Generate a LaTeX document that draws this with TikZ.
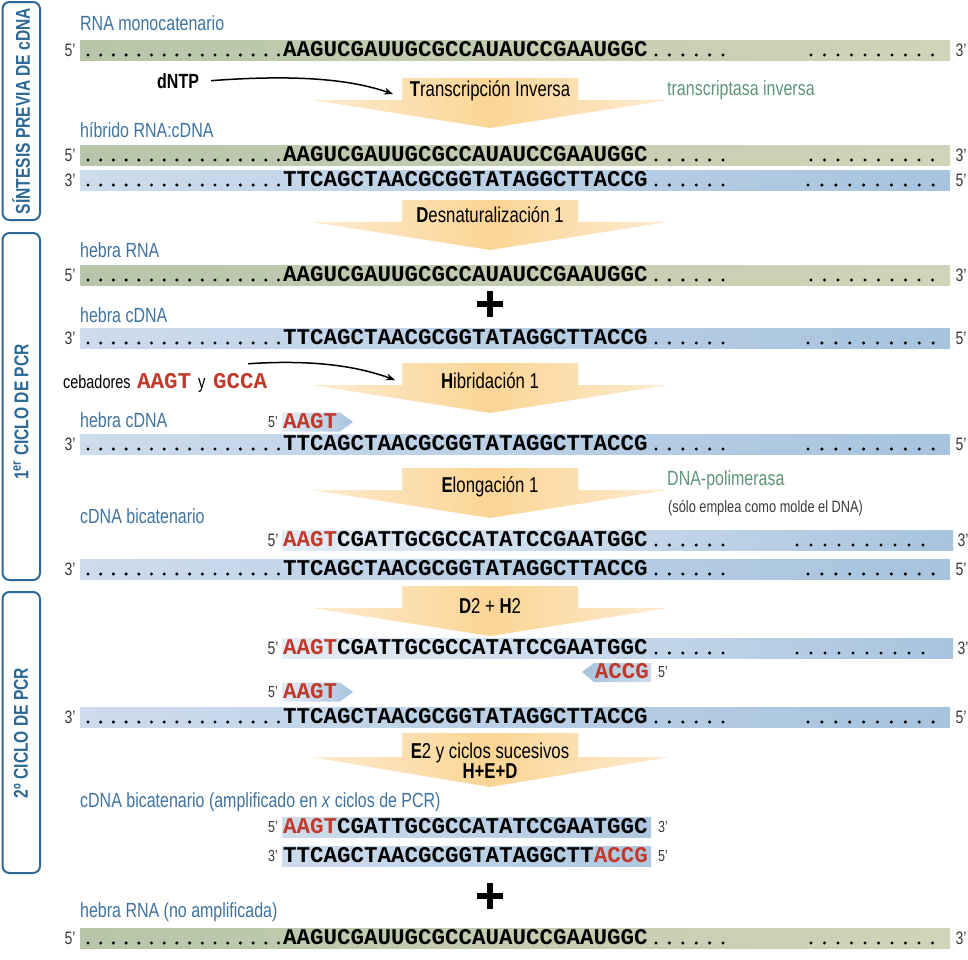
\documentclass[tikz,border=0pt]{standalone}
\usepackage{fontspec}
\setmainfont{Liberation Sans}[FakeStretch=0.78]
\newfontfamily\seqfont{Liberation Mono}
\usetikzlibrary{arrows.meta}
\definecolor{labblue}{HTML}{3F73A0}
\definecolor{labgreen}{HTML}{5F967A}
\definecolor{seqred}{HTML}{C0392B}
\definecolor{boxblue}{HTML}{2D6996}
\definecolor{endgray}{HTML}{3A3A3A}
\definecolor{rnaL}{HTML}{B7C5A9}
\definecolor{rnaR}{HTML}{D1D4B8}
\definecolor{dnaL}{HTML}{CDDCEC}
\definecolor{dnaR}{HTML}{A7C3DE}
\definecolor{dnaLL}{HTML}{E4ECF5}
\definecolor{stepC}{HTML}{FBD595}
\definecolor{stepE}{HTML}{FEEBD0}
\newcommand\dotrow[4]{\foreach \k in {1,...,#3}{\fill ({#1+(\k-1)*#4},{#2}) circle (1.7);}}
\newcommand\rnarow[2]{%
  \shade[left color=rnaL,right color=rnaR] (80,{#1-10}) rectangle (950,{#1+10});
  \node[endlab] (#2a) at (70,#1) {5’};
  \node[endlab] (#2b) at (961,#1) {3’};
  \dotrow{88}{#1+5}{16}{12.7}
  \node[seq] (#2s) at (283,{#1+6.5}) {AAGUCGAUUGCGCCAUAUCCGAAUGGC};
  \dotrow{656}{#1+5}{6}{13.4}
  \dotrow{811}{#1+5}{10}{13.5}}
\newcommand\dnarow[2]{%
  \shade[left color=dnaL,right color=dnaR] (80,{#1-10}) rectangle (950,{#1+10});
  \node[endlab] (#2a) at (70,#1) {3’};
  \node[endlab] (#2b) at (961,#1) {5’};
  \dotrow{88}{#1+5}{16}{12.7}
  \node[seq] (#2s) at (283,{#1+6.5}) {TTCAGCTAACGCGGTATAGGCTTACCG};
  \dotrow{656}{#1+5}{6}{13.4}
  \dotrow{808}{#1+5}{10}{13.9}}
\newcommand\partrow[2]{%
  \shade[left color=dnaLL,right color=dnaR] (282,{#1-10}) rectangle (953,{#1+10});
  \node[endlab] (#2a) at (273,#1) {5’};
  \node[endlab] (#2b) at (963,#1) {3’};
  \node[seq] (#2s) at (283,{#1+6.5}) {{\color{seqred}AAGT}CGATTGCGCCATATCCGAATGGC};
  \dotrow{656}{#1+5}{6}{13.4}
  \dotrow{797}{#1+5}{10}{14.0}}
\newcommand\primerR[2]{%
  \shade[left color=dnaLL,right color=dnaR] (282,{#1-9.5}) -- (340,{#1-9.5}) -- (353,#1) -- (340,{#1+9.5}) -- (282,{#1+9.5}) -- cycle;
  \node[endlab,font=\fontsize{16}{18}\selectfont] (#2a) at (273,#1) {5’};
  \node[seq] (#2s) at (283,{#1+6.5}) {\color{seqred}AAGT};}
\newcommand\steparr[5]{% top, tri offset, apex offset, left wing, right wing
  \shade[left color=stepE,right color=stepE,middle color=stepC] (402,#1) -- (578,#1) -- (578,{#1+#2}) -- (#5,{#1+#2}) -- (490,{#1+#3}) -- (#4,{#1+#2}) -- (402,{#1+#2}) -- cycle;}
\begin{document}
\begin{tikzpicture}[x=1pt,y=-1pt,
  lab/.style={inner sep=0,anchor=base west,text=labblue,font=\fontsize{20.5}{24}\selectfont},
  grn/.style={inner sep=0,anchor=base west,text=labgreen,font=\fontsize{20.5}{24}\selectfont},
  seq/.style={inner sep=0,anchor=base west,font=\seqfont\bfseries\fontsize{22.5}{26}\selectfont},
  endlab/.style={inner sep=0,text=endgray,font=\fontsize{18}{20}\selectfont},
  steptext/.style={inner sep=0,font=\fontsize{21.5}{20}\selectfont,align=center},
  boxst/.style={draw=boxblue,line width=2pt,rounded corners=7pt},
  boxtext/.style={inner sep=0,rotate=90,text=boxblue,font=\bfseries\fontsize{20}{22}\selectfont},
  conn/.style={line width=1.5pt,-{Stealth[length=9pt,width=7pt]}},
  plus/.style={line width=6.5pt}]
\useasboundingbox (0,0) rectangle (968,959);
\fill[white] (0,0) rectangle (968,959);
% left boxes
\draw[boxst] (2.5,2) rectangle (40,220);
\node[boxtext] (bx1) at (21,111) {SÍNTESIS PREVIA DE cDNA};
\draw[boxst] (2.5,233) rectangle (40,580);
\node[boxtext] (bx2) at (21,412) {1\textsuperscript{er} CICLO DE PCR};
\draw[boxst] (2.5,592) rectangle (40,873);
\node[boxtext] (bx3) at (21,733) {2º CICLO DE PCR};
% step arrows
\steparr{78}{22}{50}{312}{668}
\steparr{200}{22}{50}{312}{668}
\steparr{363}{22}{50}{312}{668}
\steparr{468}{22}{50}{312}{668}
\steparr{586}{22}{50}{312}{668}
\steparr{733}{24}{54}{310}{670}
\node[steptext] (s1) at (490,91) {\textbf{T}ranscripción Inversa};
\node[steptext] (s2) at (490,215) {\textbf{D}esnaturalización 1};
\node[steptext] (s3) at (490,381) {\textbf{H}ibridación 1};
\node[steptext] (s4) at (490,487) {\textbf{E}longación 1};
\node[steptext] (s5) at (490,606) {\textbf{D}2 + \textbf{H}2};
\node[steptext] (s6) at (490,761) {\textbf{E}2 y ciclos sucesivos\\\textbf{H+E+D}};
% labels
\node[lab] (l1) at (80,30) {RNA monocatenario};
\node[lab] (l2) at (80,137) {híbrido RNA:cDNA};
\node[lab] (l3) at (80,257) {hebra RNA};
\node[lab] (l4) at (80,322) {hebra cDNA};
\node[lab] (l5) at (80,427) {hebra cDNA};
\node[lab] (l6) at (80,523) {cDNA bicatenario};
\node[lab] (l7) at (80,807) {cDNA bicatenario (amplificado en \textit{x} ciclos de PCR)};
\node[lab] (l8) at (80,917) {hebra RNA (no amplificada)};
\node[grn] (g1) at (667,95) {transcriptasa inversa};
\node[grn] (g2) at (667,485) {DNA-polimerasa};
\node[inner sep=0,anchor=base west,text=endgray,font=\fontsize{16.4}{18}\selectfont] (g3) at (668,512) {(sólo emplea como molde el DNA)};
% dNTP
\node[inner sep=0,anchor=base west,font=\bfseries\fontsize{20.5}{24}\selectfont] (dntp) at (157,88) {dNTP};
\coordinate (ta) at (393,94);
\draw[conn] ([xshift=12pt]dntp.east) .. controls (300,74) and (352,80) .. (ta);
% cebadores
\node[inner sep=0,anchor=base west,font=\fontsize{18.5}{22}\selectfont] (ceb) at (63,388) {cebadores};
\node[seq] (aagt) at (137,388) {\color{seqred}AAGT};
\node[inner sep=0,anchor=base west,font=\fontsize{19}{22}\selectfont] (yy) at (198,388) {y};
\node[seq] (gcca) at (213,388) {\color{seqred}GCCA};
\coordinate (tb) at (395,380);
\draw[conn] ([xshift=8pt,yshift=9pt]gcca.north) .. controls (320,359) and (362,368) .. (tb);
% strands
\rnarow{50}{r1}
\rnarow{155}{r2}
\dnarow{180}{d2}
\rnarow{275}{r3}
\draw[plus] (477,304) -- (503,304) (490,291) -- (490,317);
\dnarow{338}{d4}
\primerR{422}{pa}
\dnarow{444}{d5}
\partrow{540}{p6}
\dnarow{569}{d6}
\partrow{648}{p7}
\shade[left color=dnaR,right color=dnaL] (582,672) -- (594,663) -- (651,663) -- (651,682) -- (594,682) -- cycle;
\node[seq,anchor=base east] (pb) at (649,678.5) {\color{seqred}ACCG};
\node[endlab,font=\fontsize{16}{18}\selectfont] (pbl) at (663,672) {5’};
\primerR{692}{pc}
\dnarow{717}{d7}
% final double strand
\shade[left color=dnaL,right color=dnaR!80!dnaL] (282,817) rectangle (651,837);
\node[endlab,font=\fontsize{16}{18}\selectfont] (f1a) at (273,827) {5’};
\node[seq] (f1s) at (283,833.5) {{\color{seqred}AAGT}CGATTGCGCCATATCCGAATGGC};
\node[endlab,font=\fontsize{16}{18}\selectfont] (f1b) at (663,827) {3’};
\shade[left color=dnaL,right color=dnaR!80!dnaL] (282,846) rectangle (651,866);
\node[endlab,font=\fontsize{16}{18}\selectfont] (f2a) at (273,856) {3’};
\node[seq] (f2s) at (283,862.5) {TTCAGCTAACGCGGTATAGGCTT{\color{seqred}ACCG}};
\node[endlab,font=\fontsize{16}{18}\selectfont] (f2b) at (663,856) {5’};
\draw[plus] (477,896) -- (503,896) (490,883) -- (490,909);
\rnarow{938}{r9}
\end{tikzpicture}
\end{document}
